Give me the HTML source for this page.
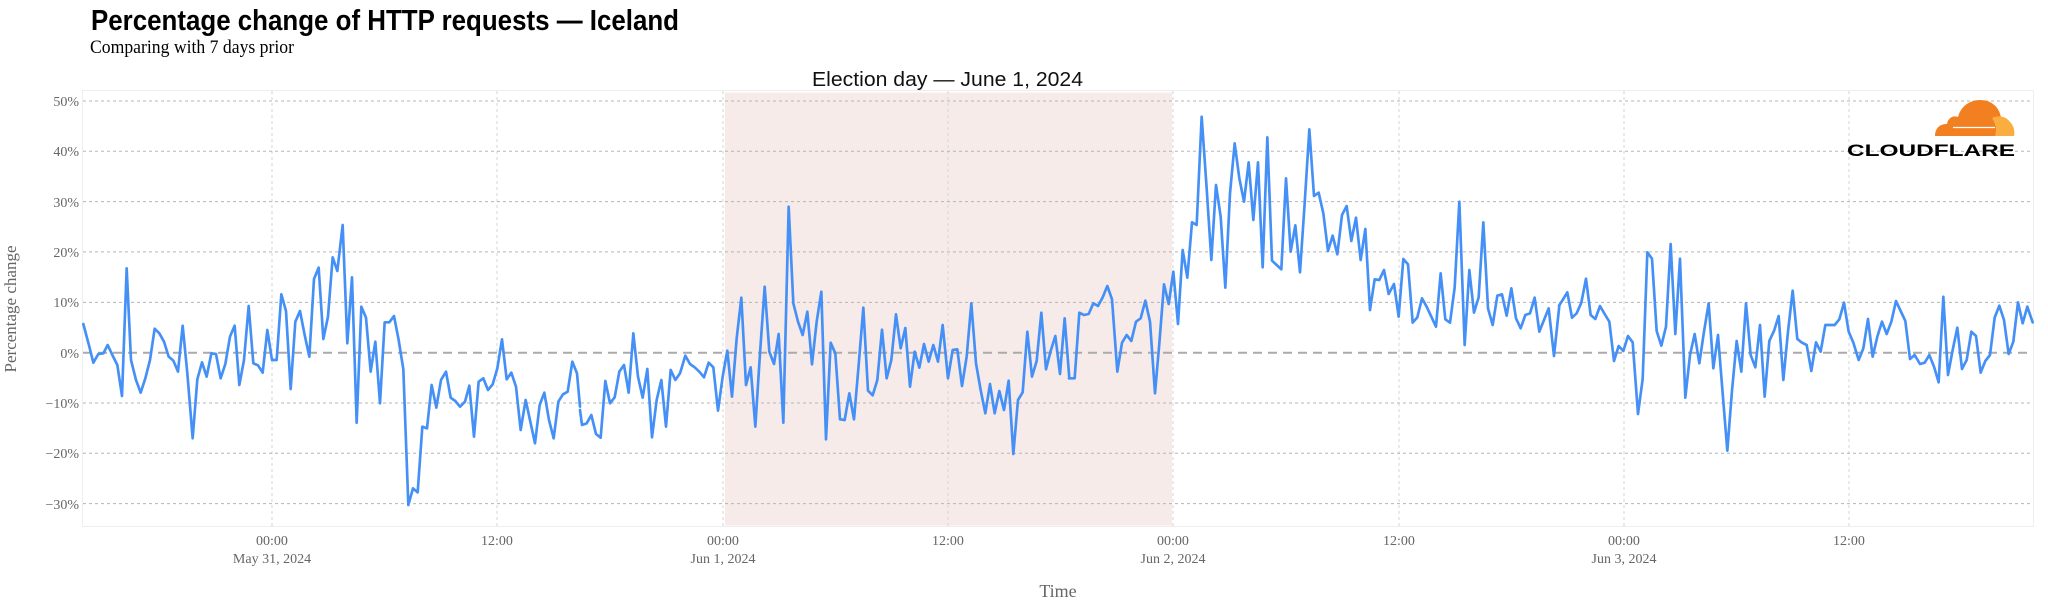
<!DOCTYPE html>
<html><head><meta charset="utf-8"><style>html,body{margin:0;padding:0;background:#fff}svg{display:block}</style></head>
<body>
<svg width="2048" height="606" viewBox="0 0 2048 606" xmlns="http://www.w3.org/2000/svg">
<rect width="2048" height="606" fill="#fff"/>
<text x="91" y="30" font-family="Liberation Sans, sans-serif" font-weight="bold" font-size="29" fill="#000" textLength="588" lengthAdjust="spacingAndGlyphs">Percentage change of HTTP requests — Iceland</text>
<text x="90" y="53" font-family="Liberation Serif, serif" font-size="19" fill="#000" textLength="204" lengthAdjust="spacingAndGlyphs">Comparing with 7 days prior</text>
<text x="812" y="86" font-family="Liberation Sans, sans-serif" font-size="20" fill="#111" textLength="271" lengthAdjust="spacingAndGlyphs">Election day — June 1, 2024</text>
<!-- plot bg -->
<rect x="82.5" y="90.5" width="1951" height="436" fill="#fff" stroke="#eee" stroke-width="1"/>
<rect x="725" y="92.5" width="447" height="433" fill="#f7ebe9"/>
<!-- vertical grid -->
<g stroke="#d4d4d4" stroke-width="1" stroke-dasharray="3,3">
<line x1="272" y1="91" x2="272" y2="526"/><line x1="497" y1="91" x2="497" y2="526"/>
<line x1="723" y1="91" x2="723" y2="526"/><line x1="948" y1="91" x2="948" y2="526"/>
<line x1="1173" y1="91" x2="1173" y2="526"/><line x1="1399" y1="91" x2="1399" y2="526"/>
<line x1="1624" y1="91" x2="1624" y2="526"/><line x1="1849" y1="91" x2="1849" y2="526"/>
</g>
<!-- horizontal grid -->
<g stroke="#b5b5b5" stroke-width="1" stroke-dasharray="3,3">
<line x1="83" y1="101" x2="2033" y2="101"/><line x1="83" y1="151.3" x2="2033" y2="151.3"/>
<line x1="83" y1="201.6" x2="2033" y2="201.6"/><line x1="83" y1="251.9" x2="2033" y2="251.9"/>
<line x1="83" y1="302.4" x2="2033" y2="302.4"/><line x1="83" y1="403" x2="2033" y2="403"/>
<line x1="83" y1="453.3" x2="2033" y2="453.3"/><line x1="83" y1="503.6" x2="2033" y2="503.6"/>
</g>
<line x1="83" y1="352.7" x2="2033" y2="352.7" stroke="#aaa" stroke-width="2" stroke-dasharray="9,6"/>
<!-- y tick labels -->
<g font-family="Liberation Serif, serif" font-size="14" fill="#666" text-anchor="end">
<text x="79" y="106">50%</text><text x="79" y="156">40%</text><text x="79" y="207">30%</text>
<text x="79" y="257">20%</text><text x="79" y="307">10%</text><text x="79" y="358">0%</text>
<text x="79" y="408">−10%</text><text x="79" y="458">−20%</text><text x="79" y="509">−30%</text>
</g>
<text transform="translate(16,309) rotate(-90)" font-family="Liberation Serif, serif" font-size="17" fill="#666" text-anchor="middle">Percentage change</text>
<!-- x tick labels -->
<g font-family="Liberation Serif, serif" font-size="14" fill="#666" text-anchor="middle">
<text x="272" y="545">00:00</text><text x="272" y="563">May 31, 2024</text>
<text x="497" y="545">12:00</text>
<text x="723" y="545">00:00</text><text x="723" y="563">Jun 1, 2024</text>
<text x="948" y="545">12:00</text>
<text x="1173" y="545">00:00</text><text x="1173" y="563">Jun 2, 2024</text>
<text x="1399" y="545">12:00</text>
<text x="1624" y="545">00:00</text><text x="1624" y="563">Jun 3, 2024</text>
<text x="1849" y="545">12:00</text>
</g>
<text x="1058" y="597" font-family="Liberation Serif, serif" font-size="18" fill="#666" text-anchor="middle">Time</text>
<!-- series -->
<g fill="none" stroke="#4590f6" stroke-width="8" stroke-linejoin="round" stroke-linecap="round">
<polyline transform="translate(80,180) scale(0.33333)" points="10,432 28,500 40,548 55,522 70,520 83,495 97,525 112,555 126,648 140,265 153,540 168,600 182,638 196,595 210,540 224,446 238,460 252,485 266,530 280,542 294,575 308,437 322,580 338,775 352,598 366,547 380,590 394,520 408,522 422,595 436,552 450,470 464,437 478,615 492,540 506,378 520,550 534,556 548,578 562,450 576,540 590,540 604,343 618,393 632,627 646,425 660,393 674,465 688,530 702,297 716,263 730,477 744,410 758,232 772,273 788,135 802,490 816,292 830,728 844,380 858,413 872,575 886,485 900,670 914,427 928,427 942,408 956,480 970,568 985,975 999,925 1013,937 1027,740 1041,745 1055,615 1069,683 1083,600 1098,575 1112,653 1126,663 1140,680 1155,665 1168,617 1182,770 1196,605 1210,595 1224,630 1238,613 1252,565 1266,478 1280,598 1294,578 1308,620 1322,750 1337,660 1351,725 1365,790 1379,675 1393,638 1407,720 1421,775 1435,665 1449,643 1463,635 1477,545 1491,580 1500,680"/>
<polyline transform="translate(570,180) scale(0.33333)" points="30,690 36,735 50,730 64,705 78,762 92,773 106,603 120,670 134,652 148,575 162,555 176,638 190,460 204,590 218,653 232,567 246,772 260,660 274,600 288,740 302,570 316,600 330,580 346,527 360,552 374,562 388,575 402,592 416,548 430,562 444,692 458,590 472,512 486,650 500,475 514,353 528,615 542,562 556,740 570,520 584,320 598,515 612,552 626,462 640,728 656,80 670,370 684,425 698,465 712,395 726,553 740,425 754,335 768,778 782,488 796,520 810,718 824,720 838,640 852,718 866,555 880,383 894,632 908,646 922,600 936,449 950,595 964,540 978,403 992,505 1006,444 1020,620 1034,515 1048,563 1062,492 1076,545 1090,495 1104,545 1118,435 1134,595 1148,510 1162,508 1176,618 1190,530 1204,370 1218,550 1232,630 1246,700 1260,612 1274,700 1288,633 1302,690 1316,602 1330,822 1344,660 1358,637 1372,455 1386,590 1400,543 1414,398 1428,568 1442,513 1456,468 1470,582 1484,415 1498,595"/>
<polyline transform="translate(1040,60) scale(0.33333)" points="87,955 90,955 104,955 118,758 132,765 146,762 160,730 174,738 188,712 202,678 216,718 232,935 246,848 260,825 274,843 288,785 302,775 316,722 330,785 345,1000 358,850 372,673 386,732 400,635 414,792 428,570 442,653 456,487 470,495 485,170 500,385 514,600 528,375 542,470 556,683 570,400 584,250 598,355 612,425 626,307 640,480 654,307 668,622 682,232 696,602 710,615 724,628 738,355 752,575 766,496 780,637 794,430 808,208 822,408 836,398 850,460 864,573 878,527 892,583 906,465 920,438 934,543 948,473 962,600 976,507 990,750 1004,658 1018,660 1032,630 1046,702 1062,672 1076,770 1090,597 1104,613 1118,788 1132,772 1146,715 1160,740 1174,770 1188,800 1202,640 1216,778 1230,788 1244,683 1258,425 1274,855 1288,630 1302,758 1316,712 1330,487 1344,745 1358,795 1372,707 1386,703 1400,767 1414,685 1428,775 1442,805 1456,765 1470,760 1484,713 1498,815 1512,780 1526,745 1542,888 1558,737"/>
<polyline transform="translate(1540,180) scale(0.33333)" points="57,377 68,360 82,337 96,413 110,400 124,368 138,296 152,405 166,417 180,378 194,402 208,425 222,543 236,498 250,513 264,468 278,487 294,702 308,597 322,217 336,236 350,453 364,497 378,440 392,192 406,462 420,236 436,653 450,525 464,462 478,550 492,455 506,370 520,565 534,465 548,640 562,812 576,632 590,483 604,575 618,370 632,525 646,562 660,435 674,650 688,483 702,453 716,408 730,600 744,455 758,332 772,477 786,488 800,495 814,573 828,487 842,515 856,435 870,435 884,435 898,418 912,368 926,455 940,488 956,540 970,505 984,417 998,530 1012,470 1026,425 1040,462 1054,425 1068,363 1082,393 1096,423 1110,537 1124,525 1140,552 1154,548 1168,525 1182,560 1196,607 1210,350 1224,585 1238,510 1252,443 1266,567 1280,540 1294,455 1308,468 1322,578 1336,543 1350,525 1364,413 1378,377 1392,420 1406,522 1420,485 1434,367 1448,430 1462,380 1478,427"/>
</g>
<!-- logo -->
<g>
<path d="M1935,136 C1935,128 1940,124 1947,124 C1948,118 1953,115 1958,117 C1961,106 1970,100 1980,100 C1992,100 2000,108 2001,118 L2001,136 Z" fill="#f38020"/>
<path d="M1995,136 C1997,130 1996,124 1992,118 C1998,115 2006,116 2010,122 C2014,126 2015,131 2014,136 Z" fill="#faae40"/>
<line x1="1953" y1="127.5" x2="1995" y2="127.5" stroke="#fff" stroke-width="1.2"/>
<text x="1847" y="156" font-family="Liberation Sans, sans-serif" font-weight="bold" font-size="17" fill="#000" textLength="168" lengthAdjust="spacingAndGlyphs">CLOUDFLARE</text>
</g>
</svg>
</body></html>
